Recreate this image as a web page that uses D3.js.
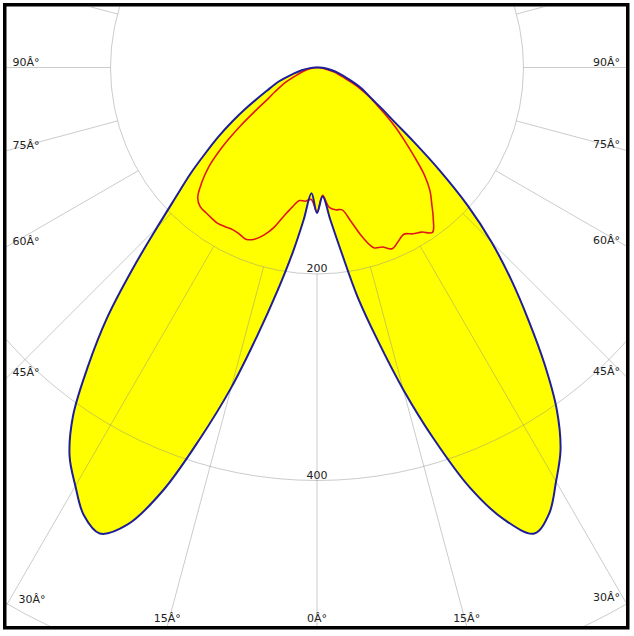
<!DOCTYPE html>
<html>
<head>
<meta charset="utf-8">
<script src="https://cdn.jsdelivr.net/npm/d3@7"></script>
<style>
  html, body { margin: 0; padding: 0; background: #fff; }
  svg { display: block; }
</style>
</head>
<body>
<script>
// ---- data ----
const angles = [0, 2.5, 5, 7.5, 10, 12.5, 15, 17.5, 20, 22.5, 25, 27.5, 30, 32.5, 35, 37.5, 40, 42.5, 45, 47.5, 50, 52.5, 55, 57.5, 60, 65, 70, 75, 80, 85, 90];
// C0-C180 plane (blue): left half and right half
const blueLeft  = [141, 122, 148, 181, 219, 265, 321, 377, 436, 479, 498, 489, 468, 446, 412, 364, 316, 264, 219, 185, 160, 136, 116, 97, 80, 54, 39, 24, 15, 7, 1];
const blueRight = [141, 125, 148, 180, 225, 270, 323, 378, 433, 474, 498, 487, 463, 439, 405, 362, 318, 278, 239, 198, 155, 118, 91, 75, 62, 47, 32, 22, 14, 8, 2];
// C90-C270 plane (red)
const redLeft   = [140, 128, 130, 130, 137, 147, 160, 170, 177, 180, 178, 177, 178, 179, 178, 177, 176, 171, 158, 142, 120, 95, 72, 56, 47, 33, 20, 13, 7, 3, 1];
const redRight  = [140, 124, 136, 139, 140, 153, 170, 183, 185, 190, 186, 182, 186, 189, 195, 185, 173, 162, 147, 128, 111, 97, 83, 70, 61, 43, 26, 18, 9, 4, 1];
const ringValues = [200, 400, 600];
const ringLabels = ["200", "400"];
const sideAngles = [90, 75, 60, 45, 30];
const sideLabels = ["90Â°", "75Â°", "60Â°", "45Â°", "30Â°"];
const bottomAngles = [-15, 0, 15];
const bottomLabels = ["15Â°", "0Â°", "15Â°"];
const rayStep = 15;

// ---- layout ----
const W = 634, H = 636;
const cx = 317, cy = 67.5;
const frame = {x0: 3, y0: 3, x1: 629.5, y1: 629.5, sw: 3.5};
const inner = {x0: frame.x0 + frame.sw, y0: frame.y0 + frame.sw, x1: frame.x1 - frame.sw, y1: frame.y1 - frame.sw};

const r = d3.scaleLinear().domain([0, 600]).range([0, 619.5]);
const rad = d => d * Math.PI / 180;

const svg = d3.select("body").append("svg").attr("width", W).attr("height", H);
svg.append("defs").append("clipPath").attr("id", "clip")
  .append("rect").attr("x", inner.x0).attr("y", inner.y0)
  .attr("width", inner.x1 - inner.x0).attr("height", inner.y1 - inner.y0);

const g = svg.append("g").attr("clip-path", "url(#clip)");
const plot = g.append("g").attr("transform", `translate(${cx},${cy})`);

// build closed polygons: right half from 90 -> 0, then left half 0 -> 90
function polygon(left, right) {
  const pts = [];
  for (let i = angles.length - 1; i >= 0; i--) pts.push([Math.PI - rad(angles[i]), r(right[i])]);
  for (let i = 1; i < angles.length; i++) pts.push([Math.PI + rad(angles[i]), r(left[i])]);
  return pts;
}
const line = d3.lineRadial().angle(d => d[0]).radius(d => d[1]).curve(d3.curveCatmullRomClosed.alpha(0.5));

const bluePts = polygon(blueLeft, blueRight);
const redPts = polygon(redLeft, redRight);

plot.append("path").attr("d", line(bluePts)).attr("fill", "#ffff00").attr("stroke", "none");
plot.append("path").attr("d", line(redPts)).attr("fill", "#ffff00").attr("stroke", "none");

// grid
const grid = plot.append("g").attr("stroke", "#8c8c8c").attr("stroke-opacity", 0.45).attr("fill", "none").attr("stroke-width", 1);
ringValues.forEach(v => grid.append("circle").attr("r", r(v)));
d3.range(0, 360, rayStep).forEach(a => {
  const s = Math.sin(rad(a)), c = Math.cos(rad(a));
  grid.append("line")
    .attr("x1", -s * r(200)).attr("y1", c * r(200))
    .attr("x2", -s * r(1200)).attr("y2", c * r(1200));
});

// curves
plot.append("path").attr("d", line(redPts)).attr("fill", "none").attr("stroke", "#e01818").attr("stroke-width", 1.6);
plot.append("path").attr("d", line(bluePts)).attr("fill", "none").attr("stroke", "#1e1e9a").attr("stroke-width", 2);

// ring labels
const font = "'DejaVu Sans', Verdana, sans-serif";
ringLabels.forEach((t, i) => {
  plot.append("text").attr("x", 0).attr("y", r(ringValues[i]) - 2)
    .attr("text-anchor", "middle").attr("font-family", font).attr("font-size", 11).attr("fill", "#222").text(t);
});

// angle labels on sides
sideAngles.forEach((a, i) => {
  const s = Math.sin(rad(a)), c = Math.cos(rad(a));
  const t = (cx - inner.x0) / s;
  const yHit = cy + t * c;
  const xOff = a <= 30 ? 12 : 6;
  svg.append("text").attr("x", inner.x0 + xOff).attr("y", yHit - 2)
    .attr("text-anchor", "start").attr("font-family", font).attr("font-size", 11).attr("fill", "#222").text(sideLabels[i]);
  const t2 = (inner.x1 - cx) / s;
  const yHit2 = cy + t2 * c;
  svg.append("text").attr("x", inner.x1 - 6).attr("y", yHit2 - 2)
    .attr("text-anchor", "end").attr("font-family", font).attr("font-size", 11).attr("fill", "#222").text(sideLabels[i]);
});
bottomAngles.forEach((a, i) => {
  const s = Math.sin(rad(a)), c = Math.cos(rad(a));
  const t = (inner.y1 - cy) / c;
  const xHit = cx + t * s;
  svg.append("text").attr("x", xHit).attr("y", inner.y1 - 4)
    .attr("text-anchor", "middle").attr("font-family", font).attr("font-size", 11).attr("fill", "#222").text(bottomLabels[i]);
});

// frame
svg.append("rect")
  .attr("x", frame.x0 + frame.sw / 2).attr("y", frame.y0 + frame.sw / 2)
  .attr("width", frame.x1 - frame.x0 - frame.sw).attr("height", frame.y1 - frame.y0 - frame.sw)
  .attr("fill", "none").attr("stroke", "#000").attr("stroke-width", frame.sw);
</script>
</body>
</html>
